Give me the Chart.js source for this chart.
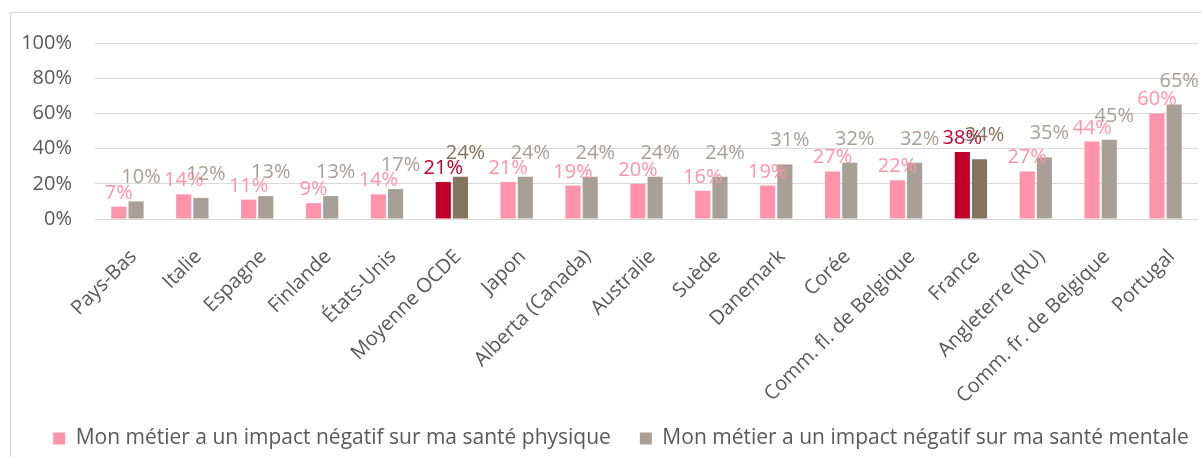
<!DOCTYPE html>
<html>
<head>
<meta charset="utf-8">
<script src="https://cdn.jsdelivr.net/npm/chart.js@4/dist/chart.umd.min.js"></script>
<style>
    html, body { margin: 0; padding: 0; background: #fff; }
    #cadre {
        position: absolute; left: 0; top: 0; width: 1202px; height: 457px; overflow: hidden;
    }
    #bord {
        position: absolute; left: 10px; top: 12px; width: 1300px; height: 600px;
        border-left: 1px solid #d9d9d9; border-top: 1px solid #d9d9d9;
    }
    #graphique { position: absolute; left: 0; top: 0; }
</style>
</head>
<body>
<div id="cadre">
    <div id="bord"></div>
    <canvas id="graphique" width="1202" height="457"></canvas>
</div>
<script>
var pays = ["Pays-Bas", "Italie", "Espagne", "Finlande", "États-Unis", "Moyenne OCDE", "Japon",
    "Alberta (Canada)", "Australie", "Suède", "Danemark", "Corée", "Comm. fl. de Belgique",
    "France", "Angleterre (RU)", "Comm. fr. de Belgique", "Portugal"];

var santePhysique = [7, 14, 11, 9, 14, 21, 21, 19, 20, 16, 19, 27, 22, 38, 27, 44, 60];
var santeMentale  = [10, 12, 13, 13, 17, 24, 24, 24, 24, 24, 31, 32, 32, 34, 35, 45, 65];

var ticksY = [0, 20, 40, 60, 80, 100];

var nomsSeries = [
    "Mon métier a un impact négatif sur ma santé physique",
    "Mon métier a un impact négatif sur ma santé mentale"
];

// OCDE et France en couleur plus foncée
var misEnAvant = ["Moyenne OCDE", "France"];

var rose = "#ff93aa", roseFonce = "#c0002a";
var gris = "#a89f96", grisFonce = "#84735e";

function couleurs(clair, fonce) {
    return pays.map(function (p) {
        return misEnAvant.indexOf(p) >= 0 ? fonce : clair;
    });
}

// étiquettes de valeur au-dessus des barres
var etiquettes = {
    id: "etiquettes",
    afterDatasetsDraw: function (chart) {
        var ctx = chart.ctx;
        ctx.save();
        ctx.font = "20px 'Open Sans'";
        ctx.textAlign = "center";
        ctx.textBaseline = "alphabetic";
        chart.data.datasets.forEach(function (ds, i) {
            var meta = chart.getDatasetMeta(i);
            var decalY = i === 0 ? 8 : 18;
            var decalX = i === 0 ? 0 : 5;
            meta.data.forEach(function (barre, j) {
                var fort = misEnAvant.indexOf(pays[j]) >= 0;
                ctx.fillStyle = i === 0 ? (fort ? roseFonce : rose) : (fort ? grisFonce : gris);
                ctx.fillText(ds.data[j] + "%", barre.x + decalX, barre.y - decalY);
            });
        });
        ctx.restore();
    }
};

// légende décalée comme dans l'original
var placeLegende = {
    id: "placeLegende",
    afterLayout: function (chart) {
        var l = chart.legend;
        var h = l.height;
        l.top = 399;
        l.bottom = l.top + h;
        l.left += 22;
        l.right += 22;
    }
};

new Chart(document.getElementById("graphique"), {
    type: "bar",
    data: {
        labels: pays,
        datasets: [{
            label: nomsSeries[0],
            data: santePhysique,
            backgroundColor: couleurs(rose, roseFonce),
            categoryPercentage: 0.53,
            barPercentage: 0.88
        }, {
            label: nomsSeries[1],
            data: santeMentale,
            backgroundColor: couleurs(gris, grisFonce),
            categoryPercentage: 0.53,
            barPercentage: 0.88
        }]
    },
    options: {
        responsive: false,
        animation: false,
        layout: { padding: { top: 43, right: 4, left: 0, bottom: 0 } },
        plugins: {
            tooltip: { enabled: false },
            legend: {
                position: "bottom",
                labels: {
                    color: "#595959",
                    font: { family: "'Open Sans'", size: 21 },
                    boxWidth: 12,
                    boxHeight: 12,
                    padding: 29,
                    generateLabels: function (chart) {
                        return chart.data.datasets.map(function (ds, i) {
                            return {
                                text: ds.label,
                                fillStyle: i === 0 ? rose : gris,
                                strokeStyle: i === 0 ? rose : gris,
                                lineWidth: 0,
                                fontColor: "#595959",
                                datasetIndex: i
                            };
                        });
                    }
                }
            }
        },
        scales: {
            x: {
                grid: { display: false },
                border: { display: false },
                afterFit: function (s) {
                    s.height = 178;
                    // pas de découpe des étiquettes inclinées
                    s._computeLabelArea = function () { return null; };
                },
                ticks: {
                    color: "#595959",
                    font: { family: "'Open Sans'", size: 20 },
                    maxRotation: 45,
                    minRotation: 45,
                    autoSkip: false,
                    padding: 18,
                    labelOffset: 6
                }
            },
            y: {
                min: 0,
                max: 100,
                afterBuildTicks: function (s) {
                    s.ticks = ticksY.map(function (v) { return { value: v }; });
                },
                afterFit: function (s) { s.width = 95; },
                grid: { color: "#d9d9d9", lineWidth: 1, drawTicks: false },
                border: { display: false },
                ticks: {
                    color: "#595959",
                    font: { family: "'Open Sans'", size: 20 },
                    padding: 23,
                    callback: function (v) { return v + "%"; }
                }
            }
        }
    },
    plugins: [etiquettes, placeLegende]
});
</script>
</body>
</html>
